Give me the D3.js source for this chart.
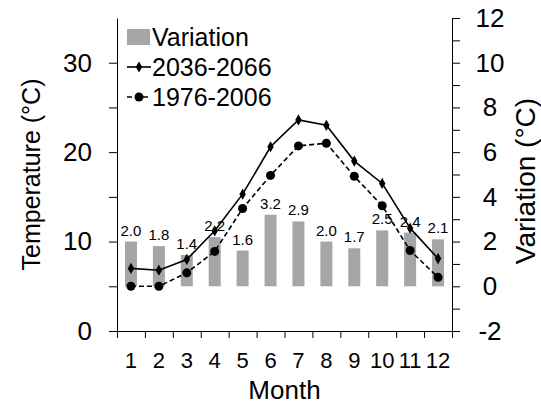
<!DOCTYPE html>
<html>
<head>
<meta charset="utf-8">
<script src="https://cdn.jsdelivr.net/npm/d3@7"></script>
<style>
  body { margin: 0; background: #fff; }
  svg text { font-family: "Liberation Sans", Arial, sans-serif; fill: #000; }
</style>
</head>
<body>
<div class="chart"></div>
<script>
// data
const months = [1, 2, 3, 4, 5, 6, 7, 8, 9, 10, 11, 12];
const variation = [2.0, 1.8, 1.4, 2.2, 1.6, 3.2, 2.9, 2.0, 1.7, 2.5, 2.4, 2.1];
const temp2036 = [7.0, 6.8, 8.0, 11.2, 15.3, 20.6, 23.6, 23.0, 19.0, 16.5, 11.5, 8.1];
const temp1976 = [5.0, 5.0, 6.5, 8.9, 13.7, 17.4, 20.7, 21.0, 17.3, 14.0, 9.0, 6.0];
const leftTicks = [0, 5, 10, 15, 20, 25, 30];
const leftLabels = [0, 10, 20, 30];
const rightTicks = [-2, -1, 0, 1, 2, 3, 4, 5, 6, 7, 8, 9, 10, 11, 12];
const rightLabels = [-2, 0, 2, 4, 6, 8, 10, 12];
const seriesNames = ['Variation', '2036-2066', '1976-2006'];

const svg_width = 541, svg_height = 406;
const margin = {top: 18, right: 89, bottom: 75, left: 117};
const chart_width = svg_width - margin.left - margin.right;
const chart_height = svg_height - margin.top - margin.bottom;

const svg = d3.select('.chart').append('svg')
    .attr('width', svg_width).attr('height', svg_height);
const g = svg.append('g')
    .attr('transform', `translate(${margin.left},${margin.top})`);

// scales
const xScale = d3.scaleBand().domain(months).range([0, chart_width]).paddingInner(0).paddingOuter(0);
const xEdges = d3.scaleLinear().domain([0, 12]).range([0, chart_width]);
const yLeft = d3.scaleLinear().domain([0, 35]).range([chart_height, 0]);
const yRight = d3.scaleLinear().domain([-2, 12]).range([chart_height, 0]);

// bars (variation, on right axis, from 0)
const barW = xScale.bandwidth() * 0.43;
g.selectAll('.bar').data(months).enter().append('rect')
    .attr('class', 'bar')
    .attr('x', (d) => xScale(d) + (xScale.bandwidth() - barW) / 2)
    .attr('y', (d, i) => yRight(variation[i]))
    .attr('width', barW)
    .attr('height', (d, i) => yRight(0) - yRight(variation[i]))
    .style('fill', '#a6a6a6');

g.selectAll('.bar-label').data(months).enter().append('text')
    .attr('class', 'bar-label')
    .attr('x', (d) => xScale(d) + xScale.bandwidth() / 2)
    .attr('y', (d, i) => yRight(variation[i]) - 6)
    .attr('text-anchor', 'middle')
    .style('font-size', '15px')
    .text((d, i) => variation[i].toFixed(1));

// lines
const cx = (d) => xScale(d) + xScale.bandwidth() / 2;
const tempLine = d3.line().x((d, i) => cx(months[i])).y((d) => yLeft(d));
g.append('path').datum(temp1976)
    .attr('d', tempLine)
    .style('fill', 'none').style('stroke', '#000')
    .style('stroke-width', 1.6).style('stroke-dasharray', '5,3');
g.append('path').datum(temp2036)
    .attr('d', tempLine)
    .style('fill', 'none').style('stroke', '#000').style('stroke-width', 1.6);

const diamond = d3.symbol().type(d3.symbolDiamond).size(36);
g.selectAll('.m2036').data(temp2036).enter().append('path')
    .attr('class', 'm2036')
    .attr('transform', (d, i) => `translate(${cx(months[i])},${yLeft(d)})`)
    .attr('d', diamond)
    .style('fill', '#000');
g.selectAll('.m1976').data(temp1976).enter().append('circle')
    .attr('class', 'm1976')
    .attr('cx', (d, i) => cx(months[i]))
    .attr('cy', (d) => yLeft(d))
    .attr('r', 4.5)
    .style('fill', '#000');

// axes
const axisColor = (sel) => {
    sel.selectAll('path, line').style('stroke', '#000').style('stroke-width', 1);
    sel.selectAll('text').style('font-family', '"Liberation Sans", Arial, sans-serif').style('fill', '#000');
};

const leftAxis = g.append('g').attr('class', 'y axis')
    .call(d3.axisLeft(yLeft).tickValues(leftTicks).tickSizeInner(8).tickSizeOuter(0).tickPadding(17)
        .tickFormat((d) => leftLabels.includes(d) ? d : ''));
leftAxis.selectAll('text').style('font-size', '26px');
leftAxis.call(axisColor);

const rightAxis = g.append('g').attr('class', 'y2 axis')
    .attr('transform', `translate(${chart_width},0)`)
    .call(d3.axisRight(yRight).tickValues(rightTicks).tickSizeInner(8).tickSizeOuter(0)
        .tickFormat((d) => rightLabels.includes(d) ? d : ''));
rightAxis.selectAll('text').style('font-size', '26px')
    .attr('x', 38).attr('text-anchor', 'middle');
rightAxis.call(axisColor);

const xAxisLine = g.append('g').attr('class', 'x axis')
    .attr('transform', `translate(0,${chart_height})`)
    .call(d3.axisBottom(xEdges).ticks(12).tickSizeInner(7).tickSizeOuter(0).tickFormat(''));
xAxisLine.call(axisColor);

const xLabels = g.append('g').attr('class', 'x labels')
    .attr('transform', `translate(0,${chart_height})`)
    .call(d3.axisBottom(xScale).tickSize(0).tickPadding(21));
xLabels.select('.domain').remove();
xLabels.selectAll('text').style('font-size', '22px');
xLabels.call(axisColor);

// axis titles
svg.append('text')
    .attr('transform', `translate(40,${margin.top + yLeft(17.5)}) rotate(-90)`)
    .attr('text-anchor', 'middle')
    .style('font-size', '25px')
    .text('Temperature (°C)');
svg.append('text')
    .attr('transform', `translate(535,${margin.top + 163}) rotate(-90)`)
    .attr('text-anchor', 'middle')
    .style('font-size', '28px')
    .text('Variation (°C)');
svg.append('text')
    .attr('x', margin.left + chart_width / 2)
    .attr('y', 399)
    .attr('text-anchor', 'middle')
    .style('font-size', '26px')
    .text('Month');

// legend
const legend = svg.append('g').attr('class', 'legend')
    .attr('transform', 'translate(127,37)');
legend.append('rect')
    .attr('x', 0).attr('y', -8).attr('width', 23).attr('height', 16)
    .style('fill', '#a6a6a6');
legend.append('line')
    .attr('x1', 0).attr('x2', 24).attr('y1', 30).attr('y2', 30)
    .style('stroke', '#000').style('stroke-width', 1.6);
legend.append('path')
    .attr('transform', 'translate(12,30)').attr('d', diamond).style('fill', '#000');
legend.append('line')
    .attr('x1', 0).attr('x2', 24).attr('y1', 60).attr('y2', 60)
    .style('stroke', '#000').style('stroke-width', 1.6).style('stroke-dasharray', '5,3');
legend.append('circle')
    .attr('cx', 12).attr('cy', 60).attr('r', 4.5).style('fill', '#000');
legend.selectAll('.legend-text').data(seriesNames).enter().append('text')
    .attr('class', 'legend-text')
    .attr('x', 25)
    .attr('y', (d, i) => i * 30)
    .attr('dy', '0.35em')
    .style('font-size', '25px')
    .text((d) => d);
</script>
</body>
</html>
